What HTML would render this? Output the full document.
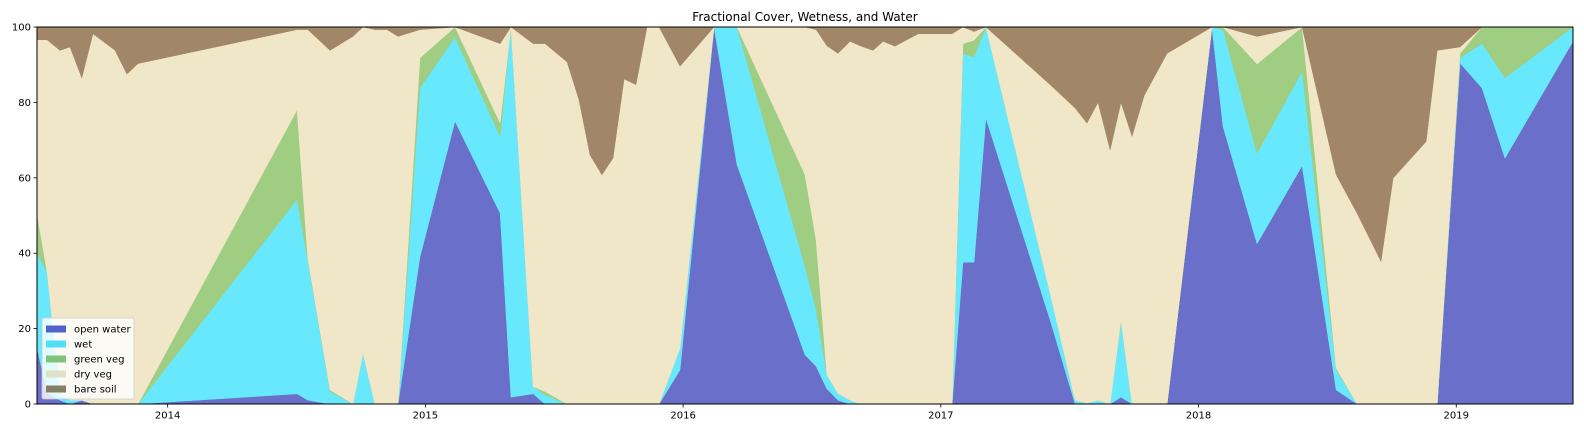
<!DOCTYPE html>
<html><head><meta charset="utf-8"><style>
body{margin:0;background:#fff;}
svg{display:block;font-family:"DejaVu Sans","Liberation Sans",sans-serif;}
</style></head><body>
<svg id="chart" width="1584" height="432"></svg>
<script>
const years=[2013.493,2013.532,2013.582,2013.621,2013.667,2013.710,2013.796,2013.842,2013.885,2014.502,2014.544,2014.630,2014.719,2014.758,2014.804,2014.851,2014.894,2014.979,2015.115,2015.290,2015.332,2015.418,2015.464,2015.550,2015.596,2015.639,2015.685,2015.728,2015.771,2015.817,2015.860,2015.907,2015.988,2016.120,2016.209,2016.473,2016.516,2016.558,2016.601,2016.648,2016.687,2016.737,2016.776,2016.822,2016.912,2017.044,2017.086,2017.129,2017.175,2017.424,2017.521,2017.567,2017.610,2017.657,2017.699,2017.742,2017.789,2017.878,2018.052,2018.095,2018.227,2018.402,2018.534,2018.615,2018.708,2018.755,2018.883,2018.926,2019.015,2019.100,2019.189,2019.453];
const openWater=[15,3,1,0,1,0,0,0,0,2.7,1,0,0,0,0,0,0,39,75,50.6,1.8,2.7,0,0,0,0,0,0,0,0,0,0,9,100,63.5,13,10,4,1,0,0,0,0,0,0,0,37.6,37.6,75.8,22.3,0,0,0,0,1.8,0,0,0,100,73.6,42.5,63.2,3.7,0,0,0,0,0,90.4,83.8,65.2,96.2];
const wet=[25,32,2,1,0,0,0,0,0,51.5,37,3.3,0,13.5,0,0,0,44.8,22.3,20.4,98.2,1.9,2.4,0,0,0,0,0,0,0,0,0,5.8,0,36.5,23.5,15,3.7,1.8,1,0,0,0,0,0,0,55.4,54.4,24.2,7.1,1,0.2,1,0,20.5,0,0,0,0,25.7,24,25,5.3,0,0,0,0,0,1.4,11.8,21.3,3.8];
const greenVeg=[10.6,0,0,0,0,0,0,0,0,23.8,0.5,0.4,0,0,0,0,0,8,2.7,3.5,0,0,0.9,0,0,0,0,0,0,0,0,0,0,0,0,24.3,18.5,0,0,0,0,0,0,0,0,0,2.6,4.5,0,0,0,0,0,0,0,0,0,0,0,0.7,23.7,11.8,0.5,0,0,0,0,0,1.2,4.4,13.5,0];
const dryVeg=[46,61.6,90.8,93.7,85.5,98.2,93.8,87.5,90.3,21.3,60.8,90.1,97.5,86.5,99.3,99.3,97.5,7.5,0,21.1,0,91,92.3,90.7,80.7,66,60.8,65.2,86.2,84.7,100,100,74.8,0,0,39.2,55.8,87.3,90.2,95.2,95,93.8,96.2,94.9,98.2,98.2,4.4,2.3,0,55.3,77.5,74.3,79,67.4,57.7,71,81.8,93,0,0,7.3,0,51.3,50.6,37.8,59.9,69.6,93.8,1.7,0,0,0];
const bareSoil=[3.4,3.4,6.2,5.3,13.5,1.8,6.2,12.5,9.7,0.7,0.7,6.2,2.5,0,0.7,0.7,2.5,0.7,0,4.4,0,4.4,4.4,9.3,19.3,34,39.2,34.8,13.8,15.3,0,0,10.4,0,0,0,0.7,5,7,3.8,5,6.2,3.8,5.1,1.8,1.8,0,1.2,0,15.3,21.5,25.5,20,32.6,20,29,18.2,7,0,0,2.5,0,39.2,49.4,62.2,40.1,30.4,6.2,5.3,0,0,0];
const seriesNames=["open water","wet","green veg","dry veg","bare soil"];
const yTicks=[0,20,40,60,80,100];
const xTicks=[2014,2015,2016,2017,2018,2019];

const NS="http://www.w3.org/2000/svg";
const svg=document.getElementById('chart');
const L=37,R=1573,T=27,B=404;
const X0=2013.493,X1=2019.453;
const xs=v=>L+(v-X0)/(X1-X0)*(R-L);
const ys=v=>B-v/100*(B-T);
function mk(tag,attrs,parent){const e=document.createElementNS(NS,tag);for(const k in attrs)e.setAttribute(k,attrs[k]);(parent||svg).appendChild(e);return e;}

const fills=["#6a6fc9","#68e8fd","#9fcd82","#f0e6c8","#a18767"];
const legendFills=["#5260cc","#4fdff6","#7fc47a","#dfe2c6","#867f63"];
const series=[openWater,wet,greenVeg,dryVeg,bareSoil];
const keys=["open-water","wet","green-veg","dry-veg","bare-soil"];
let base=years.map(()=>0);
series.forEach((s,i)=>{
  const top=base.map((b,j)=>b+s[j]);
  let d="M"+years.map((y,j)=>xs(y).toFixed(2)+","+ys(top[j]).toFixed(2)).join("L");
  for(let j=years.length-1;j>=0;j--)d+="L"+xs(years[j]).toFixed(2)+","+ys(base[j]).toFixed(2);
  d+="Z";
  const p=mk('path',{d:d,fill:fills[i],stroke:fills[i],'stroke-width':0.5});
  
  
  base=top;
});

const fr=mk('rect',{x:L,y:T,width:R-L,height:B-T,fill:'none',stroke:'#000','stroke-width':1});



yTicks.forEach(v=>{
  const y=ys(v);
  const t=mk('line',{x1:L-3.5,x2:L,y1:y,y2:y,stroke:'#000','stroke-width':0.8});
  
  
  const lb=mk('text',{x:L-6,y:y+3.5,'text-anchor':'end','font-size':10,fill:'#000'});
  lb.textContent=v;
  
  
});
xTicks.forEach(v=>{
  const x=xs(v);
  const t=mk('line',{x1:x,x2:x,y1:B,y2:B+3.5,stroke:'#000','stroke-width':0.8});
  
  
  const lb=mk('text',{x:x,y:B+14.5,'text-anchor':'middle','font-size':10,fill:'#000'});
  lb.textContent=v;
  
  
});

const title=mk('text',{x:(L+R)/2,y:21,'text-anchor':'middle','font-size':12,fill:'#000'});
title.textContent="Fractional Cover, Wetness, and Water";



const lg=mk('g',{});


mk('rect',{x:42,y:318,width:92,height:81,rx:2,fill:'#ffffff','fill-opacity':0.8,stroke:'#cccccc','stroke-width':0.8},lg);
seriesNames.forEach((n,i)=>{
  const g=mk('g',{},lg);
  
  
  const cy=329+i*15;
  mk('rect',{x:46,y:cy-3.5,width:20,height:7,fill:legendFills[i]},g);
  const t=mk('text',{x:74,y:cy+3.5,'font-size':10,fill:'#000'},g);
  t.textContent=n;
});
</script>
</body></html>
